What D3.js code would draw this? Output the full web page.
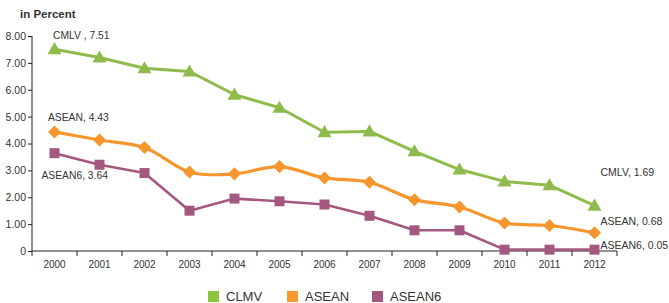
<!DOCTYPE html>
<html>
<head>
<meta charset="utf-8">
<script src="https://cdn.jsdelivr.net/npm/d3@7"></script>
<style>
  html, body { margin: 0; padding: 0; background: #fff; }
  svg { display: block; font-family: "Liberation Sans", Arial, sans-serif; }
</style>
</head>
<body>
<svg id="chart" width="669" height="303"></svg>
<script>
const years = ["2000","2001","2002","2003","2004","2005","2006","2007","2008","2009","2010","2011","2012"];
const cmlv   = [7.51, 7.20, 6.80, 6.68, 5.82, 5.33, 4.42, 4.45, 3.71, 3.03, 2.59, 2.45, 1.69];
const asean  = [4.43, 4.13, 3.85, 2.94, 2.87, 3.14, 2.72, 2.56, 1.91, 1.64, 1.04, 0.95, 0.68];
const asean6 = [3.64, 3.21, 2.90, 1.50, 1.95, 1.85, 1.73, 1.31, 0.77, 0.77, 0.05, 0.05, 0.05];
const yTicks = [0, 1, 2, 3, 4, 5, 6, 7, 8];
const legendNames = ["CLMV", "ASEAN", "ASEAN6"];
const startLabels = ["CMLV , 7.51", "ASEAN, 4.43", "ASEAN6, 3.64"];
const endLabels = ["CMLV, 1.69", "ASEAN, 0.68", "ASEAN6, 0.05"];

const series = [
  { name: "CLMV", values: cmlv, color: "#8fbb4d", width: 3, marker: "triangle", curve: d3.curveLinear,
    startOff: [-1.5, -10], endOff: [6, -29.5] },
  { name: "ASEAN", values: asean, color: "#f6962d", width: 3.2, marker: "diamond", curve: d3.curveCatmullRom.alpha(0.5),
    startOff: [-6.5, -11], endOff: [6, -7.7] },
  { name: "ASEAN6", values: asean6, color: "#a4587f", width: 2.6, marker: "square", curve: d3.curveLinear,
    startOff: [-13, 26], endOff: [6, -0.7] }
];

const svg = d3.select("#chart");
const x = d3.scaleBand().domain(years).range([32, 617]);
const y = d3.scaleLinear().domain([0, 8]).range([251, 36]);
const textColor = "#333";

// Title
svg.append("text").attr("x", 20).attr("y", 17.5)
  .attr("font-size", 11.5).attr("font-weight", "bold").attr("fill", textColor)
  .text("in Percent");

// Y axis
const yAxis = d3.axisLeft(y).tickValues(yTicks).tickSize(4).tickSizeOuter(0)
  .tickFormat(d => d === 0 ? "0" : d3.format(".2f")(d));
const gy = svg.append("g").attr("transform", "translate(32,0)").call(yAxis);
gy.selectAll("text").attr("font-size", 10.5).attr("fill", textColor).attr("x", -6)
  .attr("font-family", "Liberation Sans, Arial, sans-serif");
gy.selectAll("line").attr("stroke", "#222");
gy.select(".domain").attr("stroke", "#222").attr("d", `M0,${y(8)}V${y(0) + 5}`);

// X axis: labels at band centers, ticks at boundaries
const gx = svg.append("g").attr("transform", `translate(0,${y(0)})`);
gx.append("line").attr("x1", x.range()[0]).attr("x2", x.range()[1]).attr("y1", 0).attr("y2", 0).attr("stroke", "#222");
const bounds = years.map(d => x(d)).concat([x.range()[1]]);
gx.selectAll("line.tick").data(bounds.slice(1)).join("line").attr("class", "tick")
  .attr("x1", d => d).attr("x2", d => d).attr("y1", 0).attr("y2", 5).attr("stroke", "#222");
gx.selectAll("text").data(years).join("text")
  .attr("x", d => x(d) + x.bandwidth() / 2).attr("y", 17)
  .attr("text-anchor", "middle").attr("font-size", 10).attr("fill", textColor)
  .text(d => d);

// Lines
const cx = (i) => x(years[i]) + x.bandwidth() / 2;
series.forEach((s) => {
  const line = d3.line().x((d, i) => cx(i)).y(d => y(d)).curve(s.curve);
  svg.append("path").datum(s.values).attr("d", line)
    .attr("fill", "none").attr("stroke", s.color).attr("stroke-width", s.width)
    .attr("stroke-linejoin", "round");
});

// Markers
const symbolType = { triangle: d3.symbolTriangle, diamond: d3.symbolSquare, square: d3.symbolSquare };
const symbolSize = { triangle: 85, diamond: 85, square: 100 };
series.forEach((s) => {
  const sym = d3.symbol().type(symbolType[s.marker]).size(symbolSize[s.marker]);
  svg.append("g").selectAll("path").data(s.values).join("path")
    .attr("d", sym)
    .attr("transform", (d, i) => `translate(${cx(i)},${y(d) + (s.marker === "triangle" ? 1 : 0)})` + (s.marker === "diamond" ? " rotate(45)" : ""))
    .attr("fill", s.color);
});

// Data labels
series.forEach((s, k) => {
  const n = s.values.length;
  svg.append("text")
    .attr("x", cx(0) + s.startOff[0]).attr("y", y(s.values[0]) + s.startOff[1])
    .attr("font-size", 10.3).attr("fill", textColor).text(startLabels[k]);
  svg.append("text")
    .attr("x", cx(n - 1) + s.endOff[0]).attr("y", y(s.values[n - 1]) + s.endOff[1])
    .attr("font-size", 10.5).attr("fill", textColor).text(endLabels[k]);
});

// Legend
const legendColors = ["#8cc63e", "#f7992f", "#a4587f"];
const legendX = [208, 287, 372];
legendNames.forEach((name, i) => {
  svg.append("rect").attr("x", legendX[i]).attr("y", 291).attr("width", 11).attr("height", 11)
    .attr("fill", legendColors[i]);
  svg.append("text").attr("x", legendX[i] + 18).attr("y", 300.5)
    .attr("font-size", 13).attr("fill", textColor).text(name);
});
</script>
</body>
</html>
